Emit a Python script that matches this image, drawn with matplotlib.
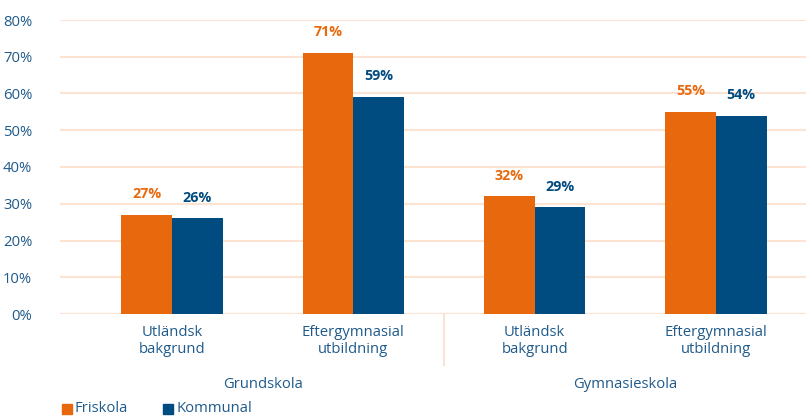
import matplotlib
matplotlib.use("Agg")
import matplotlib.pyplot as plt
from matplotlib.patches import Rectangle

plt.rcParams['font.family'] = ['Open Sans', 'DejaVu Sans']

categories = ["Utländsk\nbakgrund", "Eftergymnasial\nutbildning", "Utländsk\nbakgrund", "Eftergymnasial\nutbildning"]
groups = ["Grundskola", "Gymnasieskola"]
friskola = [27, 71, 32, 55]
kommunal = [26, 59, 29, 54]
yticks = [0, 10, 20, 30, 40, 50, 60, 70, 80]

ORANGE = "#e8690d"
NAVY = "#004b80"
TXT = "#1f5a8a"
GRID = "#fde3d1"

fig = plt.figure(figsize=(8.06, 4.17), dpi=100)
ax = fig.add_axes([60/806, 1-314/417, 746/806, 294/417])

x = list(range(len(categories)))
w = 0.28
ax.bar([i - w/2 for i in x], friskola, width=w, color=ORANGE, zorder=3)
ax.bar([i + w/2 for i in x], kommunal, width=w, color=NAVY, zorder=3)

for i in x:
    ax.annotate(f"{friskola[i]}%", (i - w/2, friskola[i]), xytext=(0, 10), textcoords="offset points",
                ha="center", va="bottom", color=ORANGE, fontweight="bold", fontsize=10.3)
    ax.annotate(f"{kommunal[i]}%", (i + w/2, kommunal[i]), xytext=(0, 10), textcoords="offset points",
                ha="center", va="bottom", color=NAVY, fontweight="bold", fontsize=10.3)

ax.set_xlim(-0.618, 3.497)
ax.set_ylim(0, 80)
ax.set_yticks(yticks)
ax.set_yticklabels([f"{v}%" for v in yticks], color=TXT, fontsize=10.7)
ax.set_xticks(x)
ax.set_xticklabels(categories, color=TXT, fontsize=10.7, linespacing=1.15)
ax.tick_params(axis='both', length=0)
ax.tick_params(axis='x', pad=8)
ax.tick_params(axis='y', pad=20)
ax.grid(axis='y', color=GRID, linewidth=1.5, zorder=0)
for s in ax.spines.values():
    s.set_visible(False)
ax.axhline(0, color=GRID, linewidth=1.5, zorder=2)

# group separator
ax.plot([1.5, 1.5], [0, -14], color=GRID, linewidth=1.5, clip_on=False, transform=ax.transData)

# group labels
for gi, g in enumerate(groups):
    ax.text(gi*2 + 0.5, -19.2, g, ha="center", va="center", color=TXT, fontsize=10.7)

# legend
fig.patches.append(Rectangle((62/806, 1-414/417), 10/806, 10/417, transform=fig.transFigure, color=ORANGE))
fig.text(75/806, 1-409/417, "Friskola", va="center", color=TXT, fontsize=10.7)
fig.patches.append(Rectangle((163/806, 1-414/417), 10/806, 10/417, transform=fig.transFigure, color=NAVY))
fig.text(176/806, 1-409/417, "Kommunal", va="center", color=TXT, fontsize=10.7)

fig.savefig("out.png", dpi=100)
